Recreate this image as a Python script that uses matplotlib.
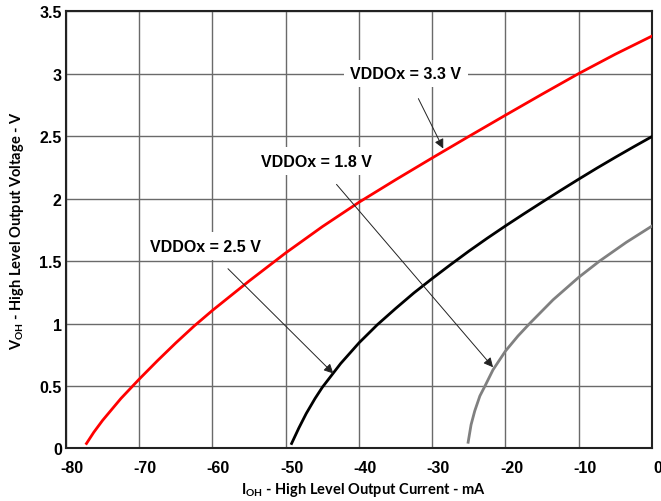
import matplotlib
matplotlib.use("Agg")
import matplotlib.pyplot as plt
import matplotlib.transforms as mtransforms

# Output current (mA) vs output high voltage (V)
red_i = [-77.2, -76.2, -75.0, -72.5, -70.0, -67.5, -65.0, -62.5, -60.0, -55.0, -50.0,
         -45.0, -40.0, -35.0, -30.0, -25.0, -20.0, -15.0, -10.0, -5.0, 0.0]
red_v = [0.04, 0.13, 0.225, 0.40, 0.555, 0.703, 0.845, 0.98, 1.105, 1.34, 1.565,
         1.775, 1.97, 2.15, 2.325, 2.497, 2.667, 2.835, 3.00, 3.155, 3.30]

blk_i = [-49.2, -48.2, -47.2, -46.0, -45.0, -42.5, -40.0, -37.5, -35.0, -32.5, -30.0,
         -27.5, -25.0, -22.5, -20.0, -17.5, -15.0, -12.5, -10.0, -7.5, -5.0, -2.5, 0.0]
blk_v = [0.04, 0.165, 0.28, 0.40, 0.49, 0.68, 0.845, 0.99, 1.12, 1.245, 1.36,
         1.471, 1.579, 1.682, 1.781, 1.877, 1.971, 2.064, 2.155, 2.244, 2.33, 2.414, 2.496]

gry_i = [-25.1, -24.7, -24.2, -23.5, -22.8, -21.7, -20.0, -18.3, -16.7, -13.5, -10.0,
         -7.15, -3.5, 0.0]
gry_v = [0.05, 0.19, 0.30, 0.42, 0.50, 0.63, 0.78, 0.90, 1.00, 1.19, 1.37,
         1.50, 1.65, 1.78]

x_ticks = [-80, -70, -60, -50, -40, -30, -20, -10, 0]
y_ticks = [0, 0.5, 1, 1.5, 2, 2.5, 3, 3.5]
y_labels = ["0", "0.5", "1", "1.5", "2", "2.5", "3", "3.5"]

# label text, text position, arrow tip
notes = [
    ("VDDOx = 3.3 V", (-33.6, 3.0), (-28.5, 2.40)),
    ("VDDOx = 1.8 V", (-45.8, 2.30), (-21.7, 0.65)),
    ("VDDOx = 2.5 V", (-61.0, 1.62), (-43.5, 0.60)),
]

plt.rcParams['font.family'] = ['Liberation Sans', 'DejaVu Sans']
plt.rcParams['mathtext.fontset'] = 'custom'
plt.rcParams['mathtext.bf'] = 'Lato:bold'
plt.rcParams['mathtext.rm'] = 'Lato:bold'

fig = plt.figure(figsize=(6.61, 5.02), dpi=100)
ax = fig.add_axes([0.0998, 0.1046, 0.8866, 0.8714])

ax.plot(red_i, red_v, color='#ff0000', lw=2.0, zorder=3, solid_joinstyle='round')
ax.plot(blk_i, blk_v, color='black', lw=2.0, zorder=3, solid_joinstyle='round')
ax.plot(gry_i, gry_v, color='#808080', lw=2.0, zorder=3, solid_joinstyle='round')

ax.set_xlim(-80, 0)
ax.set_ylim(0, 3.5)
ax.set_xticks(x_ticks)
ax.set_yticks(y_ticks)
ax.set_xticklabels([str(t) for t in x_ticks])
ax.set_yticklabels(y_labels)
ax.tick_params(axis='both', length=0, labelsize=11.5)
ax.tick_params(axis='x', pad=8)
ax.tick_params(axis='y', pad=3)
for lbl in ax.get_xticklabels() + ax.get_yticklabels():
    lbl.set_fontweight('bold')
offset = mtransforms.ScaledTranslation(6 / 100, 0, fig.dpi_scale_trans)
for lbl in ax.get_xticklabels():
    lbl.set_transform(lbl.get_transform() + offset)

ax.grid(True, color='#6a6a6a', lw=1.0, zorder=1)
ax.set_axisbelow(True)
for sp in ax.spines.values():
    sp.set_linewidth(1.5)
    sp.set_color('#222222')

for text, xy_text, xy_tip in notes:
    ax.annotate(text, xy=xy_tip, xytext=xy_text, ha='center', va='center',
                fontsize=11.5, fontweight='bold', zorder=5,
                bbox=dict(boxstyle='square,pad=0.4', fc='white', ec='none'),
                arrowprops=dict(arrowstyle='-|>', color='#222222', lw=0.7,
                                mutation_scale=14, shrinkA=9, shrinkB=0))

fig.text(0.549, 0.024, r'I$_{\mathbf{OH}}$ - High Level Output Current - mA',
         ha='center', va='center', fontsize=10.5, family='Lato', fontweight='bold')
fig.text(0.026, 0.54, r'V$_{\mathbf{OH}}$ - High Level Output Voltage - V',
         ha='center', va='center', rotation=90, fontsize=10.5, family='Lato',
         fontweight='bold')

fig.savefig('out.png', dpi=100)
